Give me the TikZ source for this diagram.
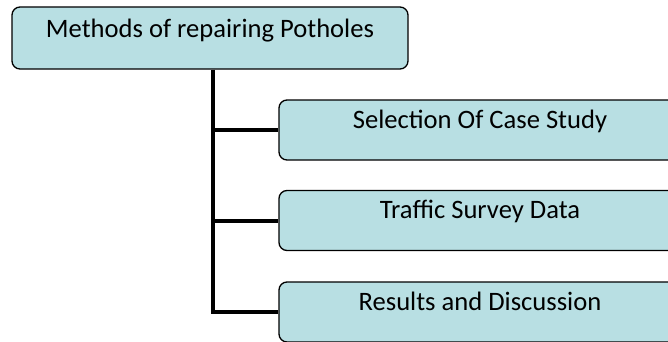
\documentclass[tikz,border=0pt]{standalone}
\usepackage{fontspec}
\setmainfont{Carlito}
\usepackage{tikz}
\usetikzlibrary{positioning}
\definecolor{boxfill}{RGB}{184,223,227}

\begin{document}
\begin{tikzpicture}[line join=miter,x=1pt,y=1pt,
    stepbox/.style={draw=black, line width=1.3pt, fill=boxfill, rounded corners=8pt,
      inner ysep=0pt, text height=28pt, text depth=32pt, font=\fontsize{26.6}{30}\selectfont},
    trunk/.style={line width=4pt}]
      \useasboundingbox (0,0) rectangle (668,341);
      \clip (0,0) rectangle (668,341);

      \node[stepbox, minimum width=396pt, text height=30pt] (top) at (210,303) {Methods of repairing Potholes};

      \node[stepbox, minimum width=402pt] (case) at (480,211) {Selection Of Case Study};
      \node[stepbox, minimum width=402pt] (traffic) at (480,120.5) {Traffic Survey Data};
      \node[stepbox, minimum width=402pt] (results) at (480,29) {Results and Discussion};

      % trunk and branches
      \coordinate (spine) at (213,0);
      \draw[trunk] (top.south -| spine) |- (results.west);
      \draw[trunk] (spine |- case.west) -- (case.west);
      \draw[trunk] (spine |- traffic.west) -- (traffic.west);

\end{tikzpicture}
\end{document}
